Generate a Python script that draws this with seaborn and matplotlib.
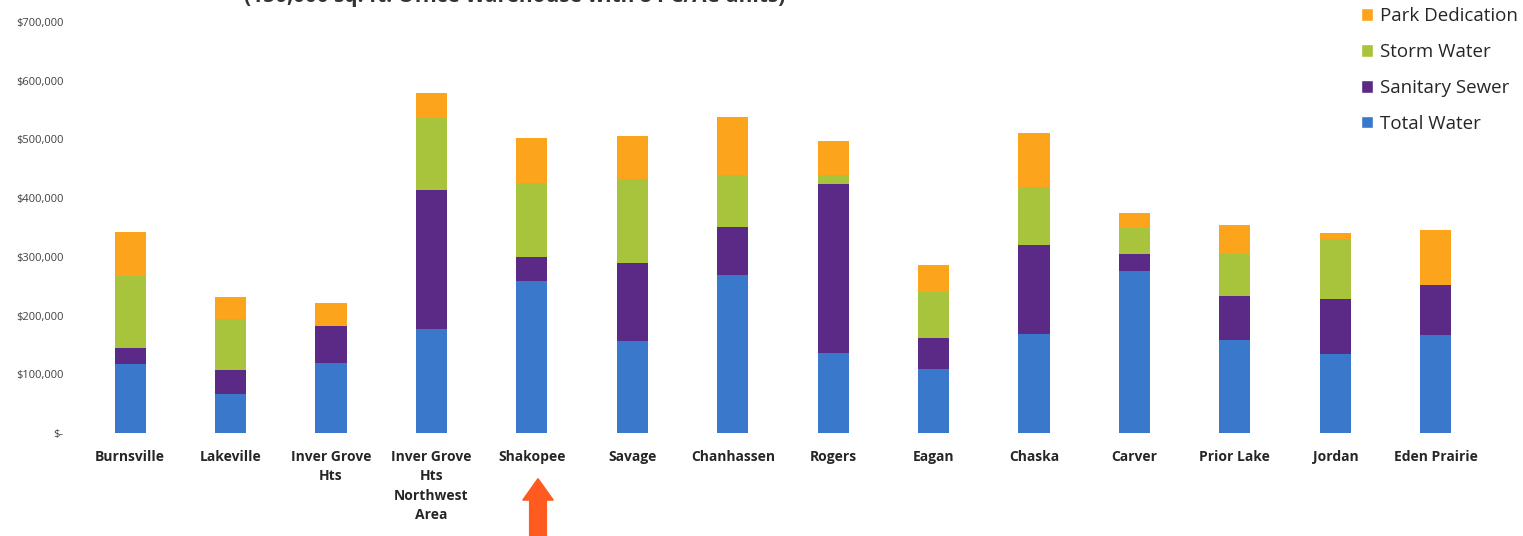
import numpy as np
import pandas as pd
import matplotlib
matplotlib.use("Agg")
import matplotlib.pyplot as plt
import seaborn as sns
from matplotlib.ticker import FuncFormatter
from matplotlib.patches import Patch, FancyArrow

cities = ["Burnsville", "Lakeville", "Inver Grove\nHts", "Inver Grove\nHts\nNorthwest\nArea",
          "Shakopee", "Savage", "Chanhassen", "Rogers", "Eagan", "Chaska", "Carver",
          "Prior Lake", "Jordan", "Eden Prairie"]
total_water = [118000, 66000, 119000, 177000, 259000, 157000, 269000, 136000, 109000, 169000, 276000, 158000, 135000, 167000]
sanitary_sewer = [27000, 41000, 63000, 237000, 41000, 133000, 82000, 288000, 53000, 151000, 29000, 75000, 93000, 85000]
storm_water = [122000, 87000, 0, 123000, 126000, 143000, 89000, 16000, 78000, 99000, 44000, 72000, 102000, 0]
park_dedication = [75000, 38000, 39000, 42000, 77000, 73000, 98000, 57000, 46000, 92000, 26000, 49000, 11000, 94000]

title = "(150,000 sq. ft. Office Warehouse with 8 PC/AC units)"
series_names = ["Total Water", "Sanitary Sewer", "Storm Water", "Park Dedication"]
colors = {"Total Water": "#3a78cc", "Sanitary Sewer": "#5a2a86",
          "Storm Water": "#a7c43c", "Park Dedication": "#fba41c"}

sns.set_theme(style="white")
plt.rcParams['font.family'] = ['Open Sans', 'DejaVu Sans']

df = pd.DataFrame({"city": cities, "Total Water": total_water, "Sanitary Sewer": sanitary_sewer,
                   "Storm Water": storm_water, "Park Dedication": park_dedication})
cum = df[series_names].cumsum(axis=1)

fig = plt.figure(figsize=(15.23, 5.36), dpi=100)
ax = fig.add_axes([0.0525, 0.192, 0.9232, 0.767])

for name in reversed(series_names):
    sns.barplot(x=df["city"], y=cum[name], color=colors[name], width=0.31,
                ax=ax, saturation=1, order=cities, linewidth=0, edgecolor="none")

ax.set_ylim(0, 700000)
ax.set_xlim(-0.5, len(cities) - 0.5)
ax.set_yticks(np.arange(0, 700001, 100000))
ax.yaxis.set_major_formatter(FuncFormatter(lambda v, p: "$-" if v == 0 else f"${v:,.0f}"))
ax.tick_params(axis='y', labelsize=8, labelcolor="#404040", length=0, pad=12)
ax.tick_params(axis='x', length=0, pad=12)
for lbl in ax.get_xticklabels():
    lbl.set_fontweight('bold')
    lbl.set_fontsize(10)
    lbl.set_color('#262626')
    lbl.set_verticalalignment('top')
    lbl.set_linespacing(1.5)
ax.set_xlabel("")
ax.set_ylabel("")
for s in ax.spines.values():
    s.set_visible(False)
ax.grid(False)

handles = [Patch(facecolor=colors[n], label=n) for n in reversed(series_names)]
fig.legend(handles=handles, loc='upper right', bbox_to_anchor=(1.008, 1.018), frameon=False,
           fontsize=13.5, handlelength=0.65, handleheight=0.65, handletextpad=0.4,
           labelspacing=0.95, labelcolor="#262626")

fig.text(0.338, 1.006, title, ha='center', va='center', fontsize=15, fontweight='bold', color='#333333')

arrow = FancyArrow(538 / 1523, 0.0, 0, 0.107, width=0.011, head_width=0.02, head_length=0.04,
                   length_includes_head=True, color='#ff5a1f', transform=fig.transFigure)
fig.patches.append(arrow)

fig.savefig("out.png", dpi=100)
